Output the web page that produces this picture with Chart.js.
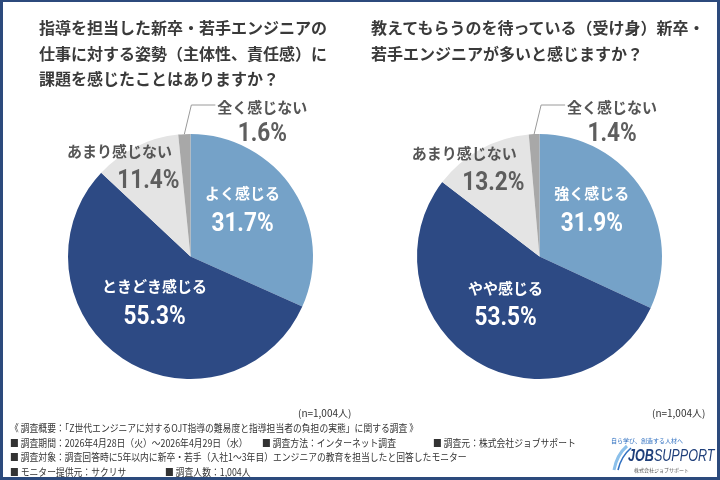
<!DOCTYPE html>
<html lang="ja">
<head>
<meta charset="utf-8">
<script src="https://cdn.jsdelivr.net/npm/chart.js@4"></script>
<style>
  html, body { margin: 0; padding: 0; background: #fff; }
  #page { position: relative; width: 720px; height: 480px; overflow: hidden; background: #fff;
    font-family: "Noto Sans CJK JP", "Noto Sans", sans-serif; color: #333; }
  #frame { position: absolute; left: 0; top: 0; width: 720px; height: 480px; box-sizing: border-box;
    border: 3px solid #2c4a7c; border-top-width: 2px; }
  canvas { position: absolute; top: 0; }
  .title { position: absolute; top: 15px; font-size: 16px; font-weight: 700; line-height: 25.5px; color: #3a3a3a; }
  .n { position: absolute; top: 405px; font-size: 10px; color: #333; }
  .foot { position: absolute; font-size: 10px; color: #333; white-space: nowrap;
    transform: scaleX(0.88); transform-origin: left top; }
</style>
</head>
<body>
<div id="page">
  <canvas id="chart_left" width="360" height="480" style="left:0"></canvas>
  <canvas id="chart_right" width="360" height="480" style="left:360px"></canvas>

  <div class="title" style="left:39px">指導を担当した新卒・若手エンジニアの<br>仕事に対する姿勢（主体性、責任感）に<br>課題を感じたことはありますか？</div>
  <div class="title" style="left:371px">教えてもらうのを待っている（受け身）新卒・<br>若手エンジニアが多いと感じますか？</div>

  <div class="n" style="left:298px">(n=1,004人)</div>
  <div class="n" style="left:652px">(n=1,004人)</div>

  <div class="foot" style="left:10px; top:420px">《 調査概要：「Z世代エンジニアに対するOJT指導の難易度と指導担当者の負担の実態」に関する調査 》</div>
  <div class="foot" style="left:10px; top:435px">■ 調査期間：2026年4月28日（火）～2026年4月29日（水）</div>
  <div class="foot" style="left:262px; top:435px">■ 調査方法：インターネット調査</div>
  <div class="foot" style="left:433px; top:435px">■ 調査元：株式会社ジョブサポート</div>
  <div class="foot" style="left:10px; top:449px">■ 調査対象：調査回答時に5年以内に新卒・若手（入社1～3年目）エンジニアの教育を担当したと回答したモニター</div>
  <div class="foot" style="left:10px; top:464px">■ モニター提供元：サクリサ</div>
  <div class="foot" style="left:165px; top:464px">■ 調査人数：1,004人</div>

  <!-- ロゴ -->
  <div style="position:absolute; left:611px; top:436px; font-size:6px; color:#2f6fc0; white-space:nowrap">自ら学び、創造する人材へ</div>
  <svg style="position:absolute; left:610px; top:444px" width="22" height="28" viewBox="0 0 22 28">
    <path d="M17 2 C10 8 6 15 4 26" stroke="#8cc0ea" stroke-width="3" fill="none"/>
    <path d="M21 4 C14 10 10 17 8 26" stroke="#2f6fc0" stroke-width="1.6" fill="none"/>
  </svg>
  <div style="position:absolute; left:628px; top:446px; font-family:'Liberation Sans', sans-serif; font-size:17px; font-style:italic; color:#1f3f7a; white-space:nowrap; transform:scaleX(0.74); transform-origin:left top"><b>JOB</b>SUPPORT</div>
  <div style="position:absolute; left:634px; top:466px; font-size:5px; color:#555; white-space:nowrap">株式会社ジョブサポート</div>

  <div id="frame"></div>
</div>

<script>
// 左：仕事に対する姿勢に課題を感じたか
const labels_left = ['よく感じる', 'ときどき感じる', 'あまり感じない', '全く感じない'];
const values_left = [31.7, 55.3, 11.4, 1.6];

// 右：受け身の新卒・若手が多いと感じるか
const labels_right = ['強く感じる', 'やや感じる', 'あまり感じない', '全く感じない'];
const values_right = [31.9, 53.5, 13.2, 1.4];

const colors = ['#75a2c8', '#2d4a84', '#e4e4e4', '#a8a8a8'];

// ラベルの置き方（スライスごと）
const label_kind = ['inside', 'inside', 'side', 'leader'];
const label_radius = [0.58, 0.47, 0.85, 1];
const label_shift = [-10, 5, 0, 0]; // 度

const numFont = 'bold 26px Roboto, "DejaVu Sans", sans-serif';
const nameFont = 'bold 15px "Noto Sans CJK JP", sans-serif';

// 数字は細長いフォントの代わりに横方向を縮める
function drawNum(ctx, txt, x, y) {
  ctx.save();
  ctx.translate(x, y);
  ctx.scale(0.87, 1);
  ctx.font = numFont;
  ctx.fillText(txt, 0, 0);
  ctx.restore();
}

const sliceLabels = {
  id: 'sliceLabels',
  afterDatasetsDraw(chart) {
    const ctx = chart.ctx;
    const meta = chart.getDatasetMeta(0);
    const names = chart.data.labels;
    const vals = chart.data.datasets[0].data;
    meta.data.forEach((arc, i) => {
      const p = arc.getProps(['x', 'y', 'startAngle', 'endAngle', 'outerRadius'], true);
      const mid = (p.startAngle + p.endAngle) / 2 + label_shift[i] * Math.PI / 180;
      const r = p.outerRadius * label_radius[i];
      const ax = p.x + Math.cos(mid) * r;
      const ay = p.y + Math.sin(mid) * r;
      const txt = vals[i].toFixed(1) + '%';
      ctx.save();
      ctx.textAlign = 'center';
      ctx.textBaseline = 'middle';
      if (label_kind[i] === 'inside') {
        ctx.fillStyle = '#fff';
        ctx.font = nameFont;
        ctx.fillText(names[i], ax, ay - 15);
        drawNum(ctx, txt, ax, ay + 16);
      } else if (label_kind[i] === 'side') {
        ctx.fillStyle = '#555';
        ctx.font = nameFont;
        ctx.fillText(names[i], ax - 25, ay - 12);
        ctx.fillStyle = '#5e5e5e';
        drawNum(ctx, txt, ax + 4, ay + 18);
      } else {
        // 引き出し線
        const ky = p.y - p.outerRadius - 29;
        const kx = ax + 7;
        const hx = kx + 24;
        ctx.strokeStyle = '#9a9a9a';
        ctx.lineWidth = 1;
        ctx.beginPath();
        ctx.moveTo(ax, ay);
        ctx.lineTo(kx, ky);
        ctx.lineTo(hx, ky);
        ctx.stroke();
        ctx.fillStyle = '#555';
        ctx.font = nameFont;
        const w = ctx.measureText(names[i]).width;
        const cx = hx + 2 + w / 2;
        ctx.fillText(names[i], cx, ky + 2);
        ctx.fillStyle = '#5e5e5e';
        drawNum(ctx, txt, cx, ky + 29);
      }
      ctx.restore();
    });
  }
};

function makePie(id, labels, values, padding) {
  new Chart(document.getElementById(id), {
    type: 'pie',
    data: {
      labels: labels,
      datasets: [{
        data: values,
        backgroundColor: colors,
        borderWidth: 0,
        hoverOffset: 0
      }]
    },
    options: {
      responsive: false,
      animation: false,
      layout: { padding: padding },
      plugins: {
        legend: { display: false },
        tooltip: { enabled: false }
      }
    },
    plugins: [sliceLabels]
  });
}

makePie('chart_left', labels_left, values_left, { left: 68, right: 47, top: 134, bottom: 101 });
makePie('chart_right', labels_right, values_right, { left: 57, right: 58, top: 134, bottom: 101 });
</script>
</body>
</html>
